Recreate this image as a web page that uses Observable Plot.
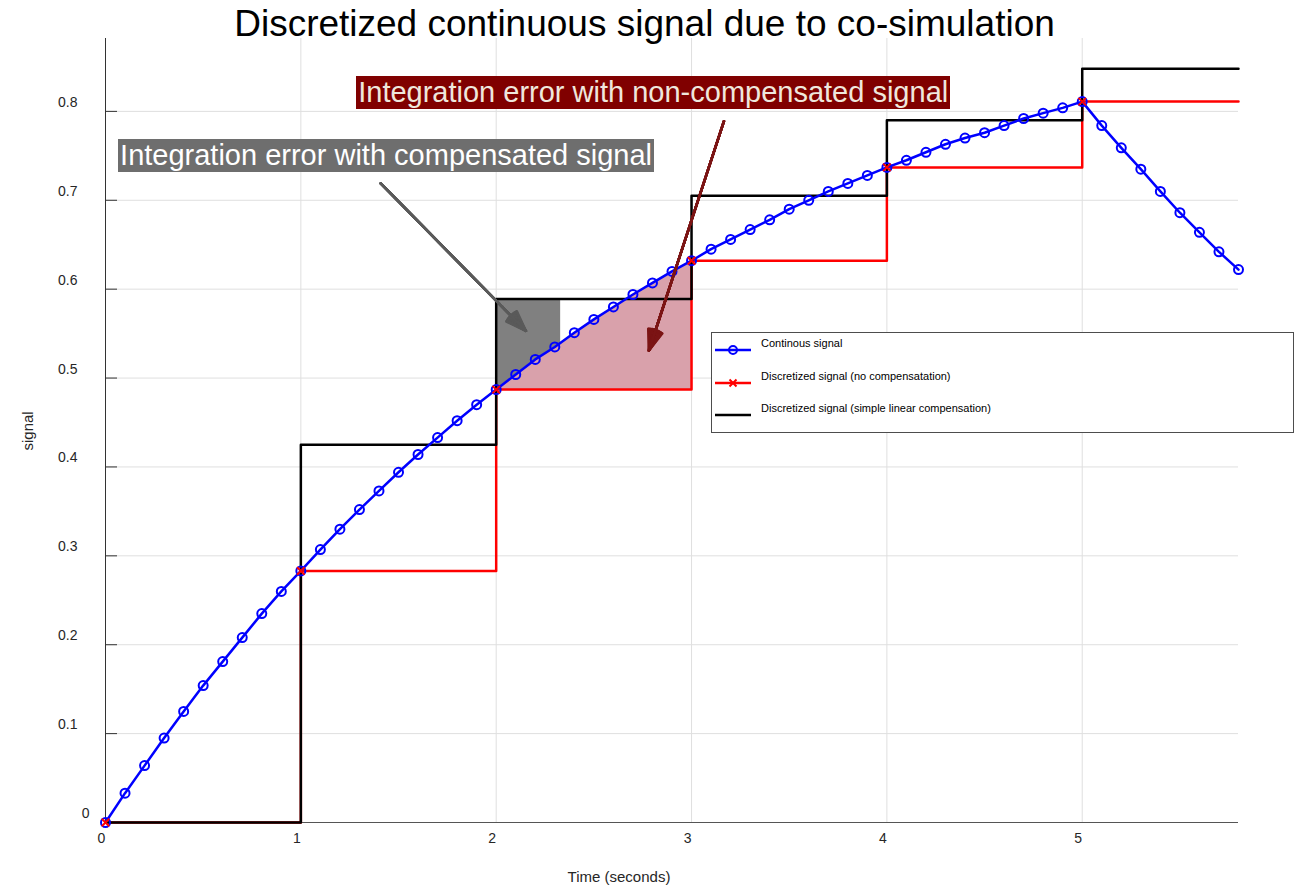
<!DOCTYPE html>
<html>
<head>
<meta charset="utf-8">
<script src="https://cdn.jsdelivr.net/npm/d3@7"></script>
<script src="https://cdn.jsdelivr.net/npm/@observablehq/plot@0.6"></script>
<style>
  body { margin: 0; background: #fff; font-family: Arial, "Liberation Sans", sans-serif; }
  #wrap { position: relative; width: 1307px; height: 889px; overflow: hidden; background: #fff; }
  #chart { position: absolute; left: 0; top: 0; }
  #title { position: absolute; left: 0; top: 0; width: 1289px; height: 44px;
           text-align: center; font-size: 37px; line-height: 41px; padding-top: 3px; box-sizing: border-box;
           color: #000; z-index: 3; white-space: nowrap; }
  .anno { position: absolute; font-size: 29px; line-height: 33px; padding: 0 2px; white-space: nowrap; z-index: 2; }
  .anno0 { background: #800000; color: #efe7dd; }
  .anno1 { background: #6e6e6e; color: #ffffff; }
  #legend { position: absolute; left: 711px; top: 332px; width: 581px; height: 99px; border: 1px solid #4d4d4d;
            background: #fff; z-index: 2; }
  #legend svg { position: absolute; left: 0; top: 0; }
  .lg { position: absolute; left: 49px; font-size: 11px; line-height: 13px; color: #000; white-space: nowrap; }
</style>
</head>
<body>
<div id="wrap">
  <div id="title">Discretized continuous signal due to co-simulation</div>
  <div id="chart"></div>
  <div id="legend">
    <svg width="60" height="99">
      <line x1="3" y1="17" x2="39" y2="17" stroke="#0000ff" stroke-width="2.5"/>
      <circle cx="21" cy="17" r="4" fill="none" stroke="#0000ff" stroke-width="2"/>
      <line x1="3" y1="50" x2="39" y2="50" stroke="#ff0000" stroke-width="2.5"/>
      <path d="M17.5,46.5L24.5,53.5M24.5,46.5L17.5,53.5" stroke="#ff0000" stroke-width="2"/>
      <line x1="3" y1="82" x2="39" y2="82" stroke="#000" stroke-width="2.5"/>
    </svg>
    <div class="lg" style="top:4px">Continous signal</div>
    <div class="lg" style="top:37px">Discretized signal (no compensatation)</div>
    <div class="lg" style="top:69px">Discretized signal (simple linear compensation)</div>
  </div>
</div>
<script>
// ---- data ----
const blueT = [0,0.1,0.2,0.3,0.4,0.5,0.6,0.7,0.8,0.9,
               1.0,1.1,1.2,1.3,1.4,1.5,1.6,1.7,1.8,1.9,
               2.0,2.1,2.2,2.3,2.4,2.5,2.6,2.7,2.8,2.9,
               3.0,3.1,3.2,3.3,3.4,3.5,3.6,3.7,3.8,3.9,
               4.0,4.1,4.2,4.3,4.4,4.5,4.6,4.7,4.8,4.9,
               5.0,5.1,5.2,5.3,5.4,5.5,5.6,5.7,5.8];
const blueV = [0,0.033,0.064,0.095,0.125,0.154,0.181,0.208,0.235,0.260,
               0.283,0.307,0.330,0.352,0.373,0.394,0.414,0.433,0.452,0.470,
               0.487,0.504,0.521,0.535,0.551,0.566,0.580,0.594,0.607,0.620,
               0.632,0.645,0.656,0.667,0.678,0.690,0.700,0.710,0.719,0.728,
               0.737,0.745,0.754,0.763,0.770,0.776,0.784,0.792,0.798,0.804,
               0.811,0.784,0.759,0.735,0.710,0.686,0.664,0.642,0.622];
const stepT  = [0, 1, 2, 3, 4, 5, 5.8];
const redV   = [0, 0.283, 0.487, 0.632, 0.737, 0.811, 0.811];
const blackV = [0, 0.425, 0.589, 0.705, 0.790, 0.848, 0.848];
const sampleT = [0, 1, 2, 3, 4, 5];
// grey patch (error with compensated signal), lower edge follows the blue curve
const grayT   = [2.0, 2.1, 2.2, 2.3, 2.33];
const grayLow = [0.487, 0.504, 0.521, 0.535, 0.539];
// annotations
const annoText = ["Integration error with non-compensated signal", "Integration error with compensated signal"];
const annoX = [1.286, 0.067];
const annoY = [0.839, 0.768];
const arrowX1 = [3.166, 1.409];
const arrowY1 = [0.789, 0.719];
const arrowX2 = [2.782, 2.152];
const arrowY2 = [0.531, 0.553];
const xTicks = [0, 1, 2, 3, 4, 5];
const yTicks = [0, 0.1, 0.2, 0.3, 0.4, 0.5, 0.6, 0.7, 0.8];

// ---- derived tables ----
const blue  = blueT.map((t, i) => ({t, v: blueV[i]}));
const red   = stepT.map((t, i) => ({t, v: redV[i]}));
const black = stepT.map((t, i) => ({t, v: blackV[i]}));
const redSamples = sampleT.map((t, i) => ({t, v: redV[i]}));
const pink = blue.filter(d => d.t >= 2 - 1e-9 && d.t <= 3 + 1e-9);
const gray = grayT.map((t, i) => ({t, lo: grayLow[i]}));
const arrows = arrowX1.map((x1, i) => ({x1, y1: arrowY1[i], x2: arrowX2[i], y2: arrowY2[i]}));

const W = 1307, H = 889, mL = 105, mR = 69, mT = 38, mB = 67;
const plotW = W - mL - mR;

function arrowMarks(a, color) {
  const ms = [];
  const angles = [6, 12, 18, 24, 30, 36, 40];
  for (const ang of angles) {
    ms.push(Plot.arrow([a], {x1: "x1", y1: "y1", x2: "x2", y2: "y2", stroke: color,
      strokeWidth: 2.5, headAngle: ang, headLength: 13}));
  }
  return ms;
}

const chart = Plot.plot({
  width: W, height: H,
  marginLeft: mL, marginRight: mR, marginTop: mT, marginBottom: mB,
  style: {fontFamily: "Arial, 'Liberation Sans', sans-serif", fontSize: "14px", background: "transparent"},
  x: {domain: [0, 5.8], label: null},
  y: {domain: [0, 0.882], label: null},
  marks: [
    Plot.gridY(yTicks.filter(d => d > 0), {stroke: "#dfdfdf", strokeOpacity: 1}),
    Plot.gridX(xTicks.filter(d => d > 0), {stroke: "#dfdfdf", strokeOpacity: 1}),
    Plot.areaY(pink, {x: "t", y1: () => redV[2], y2: "v", fill: "#d9a1ab"}),
    Plot.areaY(gray, {x: "t", y1: "lo", y2: () => blackV[2], fill: "#808080"}),
    Plot.ruleX([0], {stroke: "#333", strokeWidth: 1}),
    Plot.ruleY([0], {stroke: "#555", strokeWidth: 1}),
    Plot.tickY(yTicks.filter(d => d > 0), {y: d => d, stroke: "#333", insetRight: plotW - 12}),
    Plot.axisY(yTicks.filter(d => d > 0), {tickSize: 0, tickPadding: 28, dy: -9, fontSize: 14,
      color: "#262626", tickFormat: d => d.toFixed(1), label: null}),
    Plot.axisY([0], {tickSize: 0, tickPadding: 16, dy: -9, fontSize: 14, color: "#262626",
      tickFormat: d => "0", label: null}),
    Plot.axisX(xTicks, {tickSize: 0, tickPadding: 11, dx: -4, fontSize: 14, color: "#262626",
      tickFormat: d => String(d), label: null}),
    Plot.line(red, {x: "t", y: "v", curve: "step-after", stroke: "#ff0000", strokeWidth: 2.5}),
    Plot.line(black, {x: "t", y: "v", curve: "step-after", stroke: "#000000", strokeWidth: 2.5}),
    Plot.line(blue, {x: "t", y: "v", stroke: "#0000ff", strokeWidth: 2.5}),
    Plot.dot(blue, {x: "t", y: "v", r: 4.5, stroke: "#0000ff", strokeWidth: 2, fill: "none"}),
    Plot.dot(redSamples, {x: "t", y: "v", symbol: "times", r: 3.5, stroke: "#ff0000", strokeWidth: 2}),
    ...arrowMarks(arrows[0], "#7b1414"),
    ...arrowMarks(arrows[1], "#5a5a5a"),
    Plot.text(["signal"], {frameAnchor: "left", dx: -77, dy: 20, rotate: -90, fontSize: 15, fill: "#262626"}),
    Plot.text(["Time (seconds)"], {frameAnchor: "bottom", dx: -53, dy: 59, fontSize: 15, fill: "#262626"})
  ]
});
document.getElementById("chart").appendChild(chart);

const xs = chart.scale("x"), ys = chart.scale("y");
const wrap = document.getElementById("wrap");
annoText.forEach((txt, i) => {
  const d = document.createElement("div");
  d.className = "anno anno" + i;
  d.textContent = txt;
  d.style.left = xs.apply(annoX[i]) + "px";
  d.style.top = ys.apply(annoY[i]) + "px";
  wrap.appendChild(d);
});
</script>
</body>
</html>
